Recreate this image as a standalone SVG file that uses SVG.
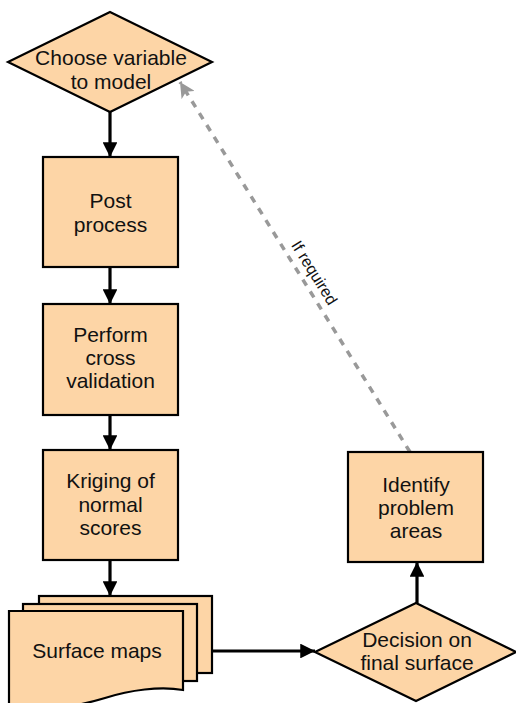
<svg xmlns="http://www.w3.org/2000/svg" width="516" height="703" viewBox="0 0 516 703">
<defs>
<style>
.node{fill:#FDD5A6;stroke:#000;stroke-width:2.2}
.t{font-family:"Liberation Sans",Arial,sans-serif;font-size:21px;fill:#111;text-anchor:middle}
.lbl{font-family:"Liberation Sans",Arial,sans-serif;font-size:16px;fill:#111;text-anchor:middle}
.arr{fill:none;stroke:#000;stroke-width:3.2}
.dash{fill:none;stroke:#999;stroke-width:3.5;stroke-dasharray:7 7}
</style>
<marker id="ah" viewBox="0 0 10 10" refX="10" refY="5" markerWidth="4.6" markerHeight="4.6" markerUnits="strokeWidth" orient="auto">
<path d="M0,0 L10,5 L0,10 Z" fill="#000"/>
</marker>
<marker id="ahg" viewBox="0 0 10 10" refX="10" refY="5" markerWidth="4.4" markerHeight="4.4" markerUnits="strokeWidth" orient="auto">
<path d="M0,0 L10,5 L0,10 L2.5,5 Z" fill="#999"/>
</marker>
</defs>
<rect width="516" height="703" fill="#fff"/>

<g id="connectors">
<line class="arr" x1="110" y1="112" x2="110" y2="157" marker-end="url(#ah)"/>
<line class="arr" x1="110" y1="267" x2="110" y2="304" marker-end="url(#ah)"/>
<line class="arr" x1="110" y1="415" x2="110" y2="450" marker-end="url(#ah)"/>
<line class="arr" x1="110" y1="560" x2="110" y2="596" marker-end="url(#ah)"/>
<line class="arr" x1="212" y1="651" x2="315" y2="651" marker-end="url(#ah)"/>
<line class="arr" x1="417" y1="603" x2="417" y2="562" marker-end="url(#ah)"/>
<line class="dash" x1="410" y1="452" x2="180" y2="82" marker-end="url(#ahg)"/>
<text class="lbl" transform="translate(314,273) rotate(58.1)" y="5">If required</text>
</g>

<g id="choose">
<polygon class="node" points="110,12 212,62 110,112 8,62"/>
<text class="t" x="111" y="65">Choose variable</text>
<text class="t" x="111" y="89">to model</text>
</g>

<g id="post">
<rect class="node" x="43" y="157" width="135" height="110"/>
<text class="t" x="110.5" y="208">Post</text>
<text class="t" x="110.5" y="232">process</text>
</g>

<g id="perform">
<rect class="node" x="43" y="304" width="135" height="111"/>
<text class="t" x="110.5" y="342">Perform</text>
<text class="t" x="110.5" y="365">cross</text>
<text class="t" x="110.5" y="388">validation</text>
</g>

<g id="kriging">
<rect class="node" x="43" y="450" width="135" height="110"/>
<text class="t" x="110.5" y="488">Kriging of</text>
<text class="t" x="110.5" y="512">normal</text>
<text class="t" x="110.5" y="535">scores</text>
</g>

<g id="surface">
<rect class="node" x="39" y="596" width="173" height="77"/>
<rect class="node" x="23" y="604" width="174" height="77"/>
<path class="node" d="M9,611 H183 V690 C160,686 130,690 105,698 C75,707 40,712 9,708 Z"/>
<text class="t" x="97" y="658">Surface maps</text>
</g>

<g id="decision">
<polygon class="node" points="416,603 516,652 416,701 315,652"/>
<text class="t" x="417" y="647">Decision on</text>
<text class="t" x="417" y="670">final surface</text>
</g>

<g id="identify">
<rect class="node" x="348" y="452" width="135" height="110"/>
<text class="t" x="416" y="492">Identify</text>
<text class="t" x="416" y="515">problem</text>
<text class="t" x="416" y="538">areas</text>
</g>
</svg>
